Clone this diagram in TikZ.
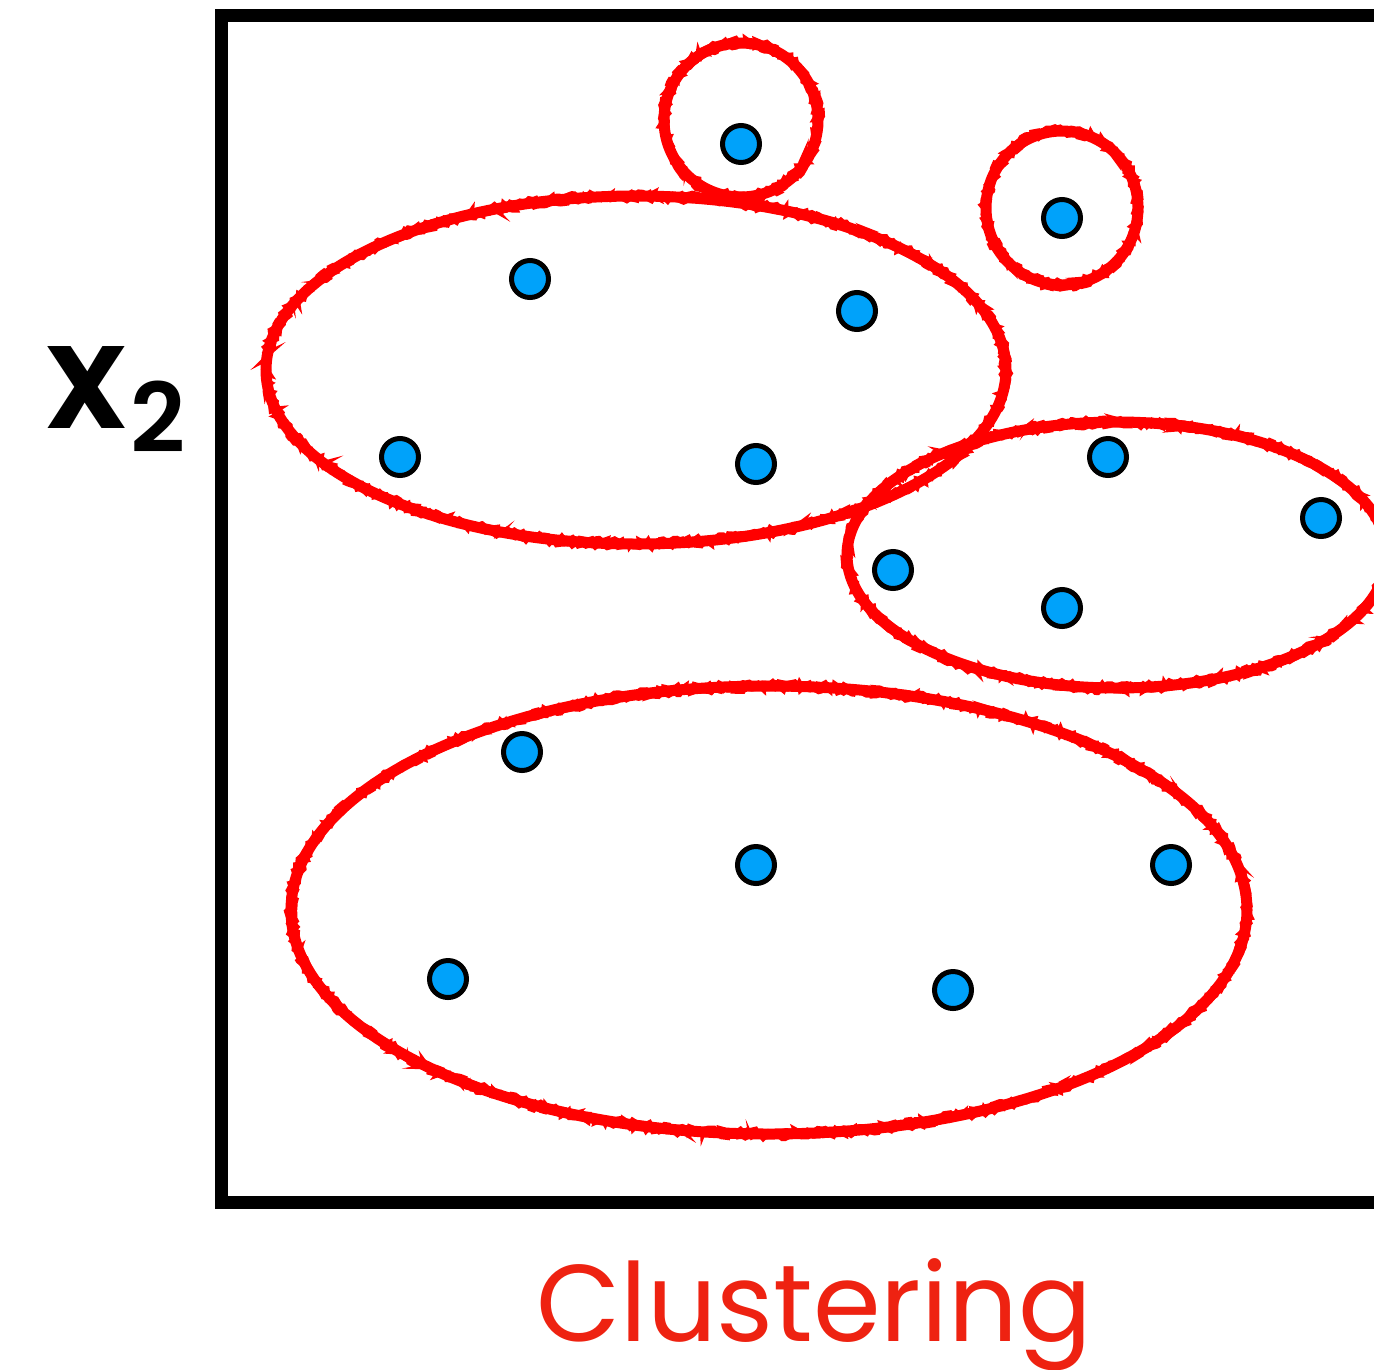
\documentclass[tikz,border=0pt]{standalone}
\usepackage{fontspec}
\setmainfont{Poppins}
\newfontfamily\semib{Poppins SemiBold}
\usetikzlibrary{decorations.pathmorphing}
\definecolor{dotblue}{RGB}{0,162,250}
\definecolor{clred}{RGB}{255,0,0}
\definecolor{txtred}{RGB}{238,34,17}
\begin{document}
\begin{tikzpicture}[x=1pt,y=-1pt,
  dot/.style={circle,draw=black,fill=dotblue,line width=5pt,minimum size=37pt,inner sep=0pt},
  crayon/.style={draw=clred,line width=11pt},
  crayonrough/.style={draw=clred,line width=4pt,decorate,decoration={random steps,segment length=3pt,amplitude=2.5pt}},
  frame/.style={draw=black,line width=13pt}]
\useasboundingbox (0,0) rectangle (1374,1369);
\clip (0,0) rectangle (1374,1369);
\fill[white] (0,0) rectangle (1374,1369);
% frame
\coordinate (tl) at (221,15);
\coordinate (br) at (1420,1202);
\draw[frame] (tl) rectangle (br);
% clusters
\foreach \cx/\cy/\rx/\ry in {741/120/77/77, 1062/208/76/77, 636/370/370/174, 1117/555/270/133, 769/910/478/224}{
  \draw[crayon] (\cx,\cy) ellipse [x radius=\rx, y radius=\ry];
  \draw[crayonrough] (\cx,\cy) ellipse [x radius=\rx+3, y radius=\ry+3];
  \draw[crayonrough] (\cx,\cy) ellipse [x radius=\rx-3, y radius=\ry-3];
}
% points
\node[dot] (p1) at (741,144) {};
\node[dot] (p2) at (1062,218) {};
\node[dot] (p3) at (530,279) {};
\node[dot] (p4) at (857,311) {};
\node[dot] (p5) at (400,457) {};
\node[dot] (p6) at (756,464) {};
\node[dot] (p7) at (1108,457) {};
\node[dot] (p8) at (1321,518) {};
\node[dot] (p9) at (893,570) {};
\node[dot] (p10) at (1062,608) {};
\node[dot] (p11) at (522,752) {};
\node[dot] (p12) at (756,865) {};
\node[dot] (p13) at (1171,865) {};
\node[dot] (p14) at (448,979) {};
\node[dot] (p15) at (953,990) {};
% labels
\node[anchor=base west,inner sep=0pt,font={\fontsize{148}{150}\selectfont\semib}] (xl) at (46,428) {x};
\node[anchor=base west,inner sep=0pt,font={\fontsize{96}{100}\selectfont\semib}] (xs) at (130,452) {2};
\node[anchor=base,inner sep=0pt,text=txtred,font={\fontsize{109}{120}\selectfont}] (cl) at (814,1341) {Clustering};
\end{tikzpicture}
\end{document}
